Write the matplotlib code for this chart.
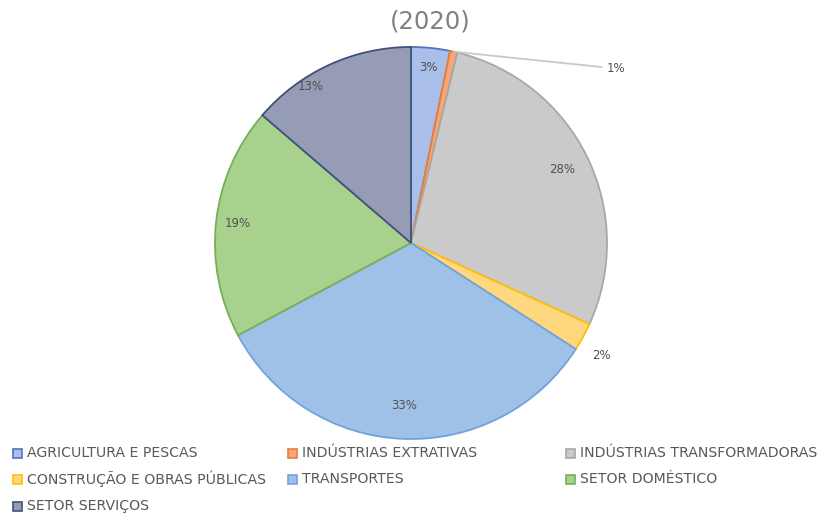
import numpy as np
import matplotlib.pyplot as plt
from matplotlib.patches import Rectangle

categorias = ["AGRICULTURA E PESCAS", "INDÚSTRIAS EXTRATIVAS", "INDÚSTRIAS TRANSFORMADORAS",
              "CONSTRUÇÃO E OBRAS PÚBLICAS", "TRANSPORTES", "SETOR DOMÉSTICO", "SETOR SERVIÇOS"]
valores = [3.2, 0.6, 28.0, 2.3, 33.1, 19.1, 13.7]
rotulos = ["3%", "1%", "28%", "2%", "33%", "19%", "13%"]
titulo = "(2020)"

cores = ["#AABEEA", "#F4A77A", "#CACACA", "#FFD77F", "#9FC1E8", "#A9D18E", "#969CB6"]
bordas = ["#4F74C0", "#ED7D31", "#A8A8A8", "#FFC000", "#6FA3DC", "#77AE57", "#3E5179"]
dist_rot = [0.90, None, 0.86, 1.13, 0.83, 0.89, 0.95]
desvio_ang = [0, 0, 0, -2, 0, 0, 8]  # graus, ajuste do rótulo

fig = plt.figure(figsize=(8.21, 5.16), dpi=100)
ax = fig.add_axes([214/821, 76/516, 394/821, 394/516])

wedges, _ = ax.pie(valores, colors=cores, startangle=90, counterclock=False, radius=1,
                   wedgeprops=dict(linewidth=1.3))
for w, b in zip(wedges, bordas):
    w.set_edgecolor(b)
ax.set_xlim(-1.005, 1.005)
ax.set_ylim(-1.005, 1.005)
ax.axis("off")

cor_txt = "#505050"
for i, w in enumerate(wedges):
    ang = np.deg2rad((w.theta1 + w.theta2) / 2 + desvio_ang[i])
    if dist_rot[i] is None:
        x0, y0 = np.cos(ang), np.sin(ang)
        ax.annotate(rotulos[i], xy=(x0, y0), xytext=(1.0, 0.89),
                    fontsize=8.5, color=cor_txt, va="center", ha="left",
                    annotation_clip=False,
                    arrowprops=dict(arrowstyle="-", color="#C8C8C8", lw=1.3,
                                    shrinkA=2, shrinkB=0))
        continue
    r = dist_rot[i]
    ax.text(r*np.cos(ang), r*np.sin(ang), rotulos[i], fontsize=8.5, color=cor_txt,
            ha="center", va="center", clip_on=False)

fig.text(430/821, 1 - 22/516, titulo, fontsize=17.5, color="#808080", ha="center", va="center")

# legenda em linhas (3 colunas)
col_x = [13, 288, 566]
lin_y = [453, 479, 506]
for i, nome in enumerate(categorias):
    cx = col_x[i % 3]
    cy = lin_y[i // 3]
    fig.patches.append(Rectangle((cx/821, 1 - (cy + 4.5)/516), 9/821, 9/516,
                                 transform=fig.transFigure, facecolor=cores[i],
                                 edgecolor=bordas[i], linewidth=1.2))
    fig.text((cx + 14)/821, 1 - cy/516, nome, fontsize=10.2, color="#595959",
             ha="left", va="center")

fig.savefig("out.png", dpi=100, facecolor="white")
